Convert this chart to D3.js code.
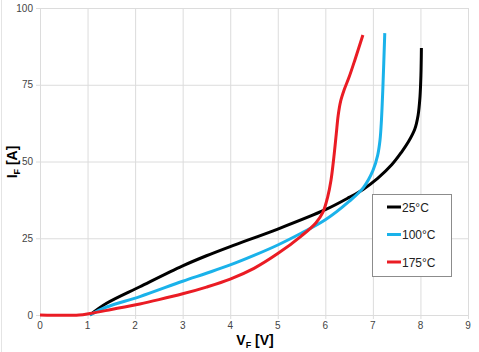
<!DOCTYPE html>
<html>
<head>
<meta charset="utf-8">
<script src="https://cdn.jsdelivr.net/npm/d3@7"></script>
<style>
  body { margin: 0; background: #fff; }
  svg { display: block; font-family: "Liberation Sans", Arial, sans-serif; }
</style>
</head>
<body>
<svg id="chart" width="479" height="352"></svg>
<script>
// Data (V in volts, I in amps)
const xTicks = [0, 1, 2, 3, 4, 5, 6, 7, 8, 9];
const yTicks = [0, 25, 50, 75, 100];
const seriesNames = ["25°C", "100°C", "175°C"];
const seriesColors = ["#000000", "#1ab2ea", "#ea1c24"];

const curve25 = [
  [1.05, 0], [1.4, 3.8], [2.1, 9.2], [3.0, 16.0], [3.5, 19.3], [4.0, 22.3],
  [5.0, 28.0], [6.0, 34.3], [6.5, 38.3], [6.8, 41.0], [7.1, 44.5], [7.4, 49.0],
  [7.6, 53.0], [7.75, 56.5], [7.88, 60.5], [7.95, 65.0], [7.99, 71.0], [8.01, 78.0], [8.02, 87.0]
];
const curve100 = [
  [1.05, 0], [1.4, 2.6], [2.1, 6.0], [3.0, 11.0], [3.5, 13.6], [4.0, 16.3],
  [4.5, 19.4], [5.0, 22.8], [5.5, 26.7], [6.0, 31.0], [6.5, 37.0], [6.8, 41.5],
  [7.0, 47.0], [7.1, 52.0], [7.15, 57.0], [7.18, 63.5], [7.21, 74.0], [7.25, 91.8]
];
const curve175 = [
  [0, 0], [0.82, 0], [1.05, 0.5], [1.5, 1.8], [2.1, 3.6], [2.5, 5.0], [3.0, 6.9],
  [3.5, 9.1], [4.0, 11.7], [4.5, 15.2], [5.0, 20.0], [5.5, 25.8], [5.8, 30.0],
  [5.95, 33.5], [6.05, 38.5], [6.12, 44.0], [6.18, 51.5], [6.23, 59.0],
  [6.27, 65.0], [6.32, 69.5], [6.4, 73.5], [6.5, 77.5], [6.62, 83.0], [6.79, 91.2]
];
const curves = [curve25, curve100, curve175];

const svg = d3.select("#chart"),
    margin = {top: 8, right: 11, bottom: 37, left: 40},
    width = 479 - margin.left - margin.right,
    height = 352 - margin.top - margin.bottom;

const x = d3.scaleLinear().domain([0, 9]).range([margin.left, margin.left + width]);
const y = d3.scaleLinear().domain([0, 100]).range([margin.top + height, margin.top]);

// faint frame at the left edge of the picture
svg.append("line")
  .attr("x1", 1.5).attr("x2", 1.5).attr("y1", 0).attr("y2", 352)
  .attr("stroke", "#e4e4e4");

// grid
svg.append("g").selectAll("line")
  .data(xTicks).join("line")
  .attr("x1", d => x(d) + 0.5).attr("x2", d => x(d) + 0.5)
  .attr("y1", y(100)).attr("y2", y(0) + 4)
  .attr("stroke", "#dcdcdc");
svg.append("g").selectAll("line")
  .data(yTicks).join("line")
  .attr("x1", x(0) - 4).attr("x2", x(9))
  .attr("y1", d => y(d) + 0.5).attr("y2", d => y(d) + 0.5)
  .attr("stroke", "#dcdcdc");

// tick labels
svg.append("g").selectAll("text")
  .data(xTicks).join("text")
  .attr("x", d => x(d)).attr("y", y(0) + 14)
  .attr("text-anchor", "middle")
  .attr("font-size", 10).attr("fill", "#444")
  .text(d => d);
svg.append("g").selectAll("text")
  .data(yTicks).join("text")
  .attr("x", x(0) - 7).attr("y", d => y(d) + 3.5)
  .attr("text-anchor", "end")
  .attr("font-size", 10).attr("fill", "#444")
  .text(d => d);

// axis titles
const xt = svg.append("text")
  .attr("x", 255).attr("y", 345)
  .attr("text-anchor", "middle")
  .attr("font-size", 14).attr("font-weight", "bold");
xt.append("tspan").text("V");
xt.append("tspan").attr("font-size", 9).attr("dy", 3).text("F");
xt.append("tspan").attr("dy", -3).text(" [V]");

const yt = svg.append("text")
  .attr("transform", "translate(17,162) rotate(-90)")
  .attr("text-anchor", "middle")
  .attr("font-size", 14).attr("font-weight", "bold");
yt.append("tspan").text("I");
yt.append("tspan").attr("font-size", 9).attr("dy", 3).text("F");
yt.append("tspan").attr("dy", -3).text(" [A]");

// curves
const line = d3.line()
  .x(d => x(d[0])).y(d => y(d[1]))
  .curve(d3.curveCatmullRom.alpha(0.5));

svg.append("g").selectAll("path")
  .data(curves).join("path")
  .attr("d", d => line(d))
  .attr("fill", "none")
  .attr("stroke", (d, i) => seriesColors[i])
  .attr("stroke-width", 3)
  .attr("stroke-linejoin", "round");

// legend
const lg = svg.append("g");
lg.append("rect")
  .attr("x", 372.5).attr("y", 194.5).attr("width", 79).attr("height", 82)
  .attr("fill", "#fff").attr("stroke", "#8c8c8c");
const items = lg.selectAll("g.item")
  .data(seriesNames).join("g")
  .attr("class", "item")
  .attr("transform", (d, i) => `translate(387,${207 + i * 27.5})`);
items.append("line")
  .attr("x1", 0).attr("x2", 14)
  .attr("stroke", (d, i) => seriesColors[i])
  .attr("stroke-width", 3);
items.append("text")
  .attr("x", 15).attr("y", 4.5)
  .attr("font-size", 12).attr("fill", "#222")
  .text(d => d);
</script>
</body>
</html>
